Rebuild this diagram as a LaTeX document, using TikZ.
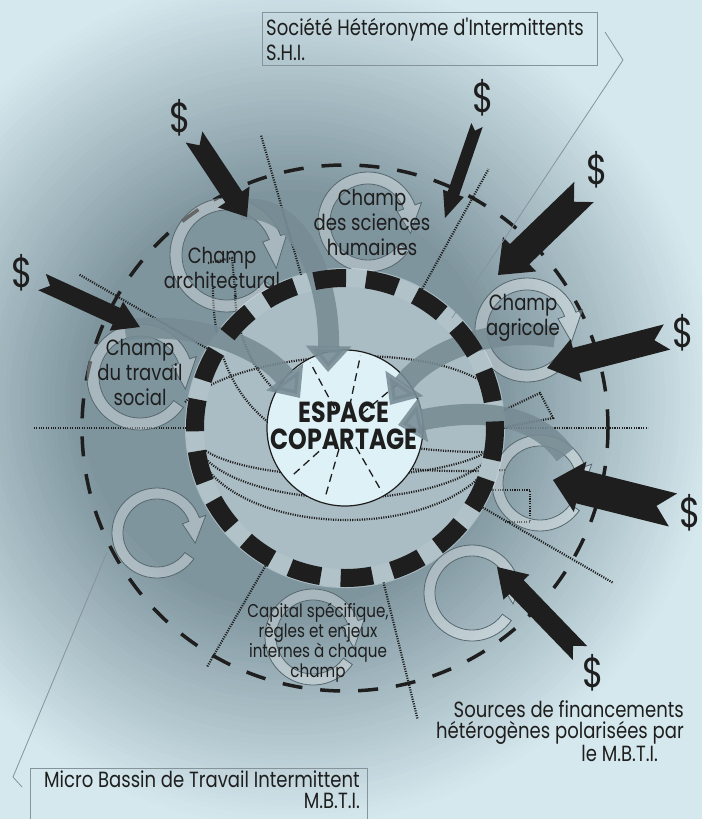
\documentclass[tikz,border=0pt]{standalone}
\usepackage{fontspec}
\newfontfamily\handfont{Poppins}[FakeStretch=0.82]
\usetikzlibrary{calc, arrows.meta}

\definecolor{bglight}{HTML}{D5E8EE}
\definecolor{bgdark}{HTML}{7F959E}
\definecolor{innerfill}{HTML}{ABBDC4}
\definecolor{bandfill}{HTML}{B1C3C9}
\definecolor{centrefill}{HTML}{DEF1F6}
\definecolor{flowgray}{HTML}{768B93}
\definecolor{ringline}{HTML}{56676E}
\definecolor{leadgray}{HTML}{84949A}
\definecolor{ink}{HTML}{1E1E1E}

% circular arrow round a champ: centre, outer radius, inner radius
\newcommand{\champring}[3]{%
  \filldraw[ringbody] ($(#1)+(35:#2)$) arc[start angle=35, end angle=340, radius=#2]
    -- ($(#1)+(340:{#2+7})$) -- ($(#1)+(15:{(#2+#3)/2})$) -- ($(#1)+(340:{#3-7})$)
    -- ($(#1)+(340:#3)$) arc[start angle=340, end angle=35, radius=#3] -- cycle;}

% money arrow: tail, tip, half shaft, half head, head length
\newcommand{\cashflow}[5]{%
  \coordinate (cfb) at ($(#2)!#5pt!(#1)$);
  \fill[cash] ($(#1)!#3pt!90:(#2)$) -- ($(cfb)!#3pt!90:(#2)$) -- ($(cfb)!#4pt!90:(#2)$)
    -- (#2) -- ($(cfb)!#4pt!-90:(#2)$) -- ($(cfb)!#3pt!-90:(#2)$)
    -- ($(#1)!#3pt!-90:(#2)$) -- ($(#1)!#3pt!(#2)$) -- cycle;}

\begin{document}
\begin{tikzpicture}[x=1pt, y=-1pt,
    every node/.style = {font=\handfont\fontsize{22}{25}\selectfont, text=ink, inner sep=0pt},
    champ/.style    = {align=center},
    capital/.style  = {align=center, font=\handfont\fontsize{18.5}{20}\selectfont},
    dollar/.style   = {font=\handfont\fontsize{42}{42}\selectfont},
    dots/.style     = {ink, line width=2.2pt, dash pattern=on 1.1pt off 1.3pt},
    spoke/.style    = {ink, line width=1.3pt, dash pattern=on 8pt off 5pt},
    leader/.style   = {leadgray, line width=0.8pt},
    flow/.style     = {flowgray, opacity=0.88, line width=21pt, -{Triangle[width=44pt,length=26pt]}},
    ringbody/.style = {fill=white, fill opacity=0.32, draw=ringline, line width=0.8pt},
    cash/.style     = {fill=ink},
    framebox/.style = {draw=leadgray, line width=1pt, inner sep=0pt},
]
\useasboundingbox (0,0) rectangle (702,819);
\clip (0,0) rectangle (702,819);

% background and halo
\fill[bglight] (0,0) rectangle (702,819);
\coordinate (halo) at (290,400);
\foreach \r in {430,425,...,200} {
    \pgfmathtruncatemacro\p{min(100,(430-\r)/2.2)}
    \fill[bgdark!\p!bglight] (halo) circle (\r);
}

% the micro basin
\coordinate (hub) at (345,428);
\fill[innerfill] (hub) circle (160);
\draw[ink, line width=3.5pt, dash pattern=on 20pt off 18pt] (hub) circle (263);

% borders between the champs
\foreach \a/\r in {-61/296, -106/305, -150/307, 180/312, 0/303, 30/310, 76/300, 120/276}
    \draw[dots] ($(hub)+(\a:159)$) -- ($(hub)+(\a:\r)$);

% dotted links across the shared space
\foreach \ry in {40,62,84}
    \draw[dots] (195,436) arc[start angle=180, end angle=0, x radius=152, y radius=\ry];
\draw[dots] (213,288) .. controls (213,420) and (300,480) .. (505,470);
\draw[dots] (235,295) .. controls (240,400) and (330,455) .. (500,452);
\draw[dots] (185,402) .. controls (240,350) and (440,335) .. (500,395);
\draw[dots] (500,412) -- (540,393) -- (553,418) -- (500,428);
\draw[dots] (488,490) -- (530,490) -- (530,522) -- (505,522);
\draw[dots] (208,263) -- (232,258) -- (236,300);

% champs
\coordinate (archi)     at (227,255);
\coordinate (sciences)  at (368,222);
\coordinate (agri)      at (527,330);
\coordinate (social)    at (140,377);
\coordinate (eastring)  at (540,483);
\coordinate (southeast) at (472,593);
\coordinate (capital)   at (313,637);
\coordinate (southwest) at (157,533);
\champring{archi}{57}{45}
\champring{sciences}{50}{38}
\champring{agri}{52}{40}
\champring{social}{53}{41}
\champring{eastring}{48}{37}
\champring{southeast}{48}{37}
\champring{capital}{48}{37}
\champring{southwest}{45}{34}

% shared space
\draw[bandfill, line width=18pt] (hub) circle (150);
\node[circle, draw=ink, fill=centrefill, line width=1.2pt, minimum size=156pt] (espace) at (hub) {};
\foreach \a in {-118,-78,-40,60,106,138}
    \draw[spoke] ($(espace.center)+(\a:22)$) -- ($(espace.center)+(\a:74)$);

% flows from the champs into the shared space
\coordinate (f1s) at (240,210);
\coordinate (f1e) at (328,372);
\coordinate (f2s) at (125,330);
\coordinate (f2e) at (300,398);
\coordinate (f3s) at (555,337);
\coordinate (f3e) at (390,405);
\coordinate (f4s) at (565,455);
\coordinate (f4e) at (398,425);
\draw[flow] (f1s) .. controls (300,200) and (330,280) .. (f1e);
\draw[flow] (f2s) .. controls (200,320) and (265,350) .. (f2e);
\draw[flow] (f3s) .. controls (480,325) and (420,360) .. (f3e);
\draw[flow] (f4s) .. controls (530,405) and (460,412) .. (f4e);

% thick dashed border of the shared space
\draw[ink, line width=18pt, dash pattern=on 32pt off 20pt] (hub) circle (150);

% labels
\node[font=\handfont\bfseries\fontsize{29}{27}\selectfont, align=center] (espacetxt) at (344,426) {ESPACE\\COPARTAGE};
\node[champ] (architxt)    at (222,268) {Champ\\architectural};
\node[champ] (sciencestxt) at (372,222) {Champ\\des sciences\\humaines};
\node[champ] (agritxt)     at (523,318) {Champ\\agricole};
\node[champ] (socialtxt)   at (140,372) {Champ\\du travail\\social};
\node[capital] (capitaltxt) at (318,643) {Capital spécifique,\\règles et enjeux\\internes à chaque\\champ};

% funding sources
\node[dollar] (d1) at (180,118) {\$};
\node[dollar] (d2) at (483,98)  {\$};
\node[dollar] (d3) at (597,170) {\$};
\node[dollar] (d4) at (22,273)  {\$};
\node[dollar] (d5) at (683,333) {\$};
\node[dollar] (d6) at (690,513) {\$};
\node[dollar] (d7) at (593,673) {\$};
\coordinate (t1) at (194,137);
\coordinate (h1) at (247,217);
\coordinate (t2) at (477,125);
\coordinate (h2) at (445,218);
\coordinate (t3) at (584,192);
\coordinate (h3) at (498,275);
\coordinate (t4) at (42,282);
\coordinate (h4) at (140,327);
\coordinate (t5) at (667,337);
\coordinate (h5) at (547,368);
\coordinate (t6) at (673,510);
\coordinate (h6) at (553,480);
\coordinate (t7) at (580,653);
\coordinate (h7) at (497,567);
\cashflow{t1}{h1}{10}{19}{24}
\cashflow{t2}{h2}{6}{11}{26}
\cashflow{t3}{h3}{14}{24}{30}
\cashflow{t4}{h4}{9}{16}{26}
\cashflow{t5}{h5}{13}{22}{30}
\cashflow{t6}{h6}{17}{26}{28}
\cashflow{t7}{h7}{10}{18}{28}

% S.H.I. box
\node[framebox, minimum width=335pt, minimum height=53pt, anchor=north west] (shi) at (262,12) {};
\node[anchor=west, align=left] (shitxt) at ($(shi.west)+(4,0)$) {Société Hétéronyme d'Intermittents\\S.H.I.};
\coordinate (shitip)  at (605,32);
\coordinate (shibend) at (623,60);
\coordinate (shiend)  at (452,318);
\draw[leader] (shitip) -- (shibend) -- (shiend);

% M.B.T.I. box
\node[framebox, minimum width=337pt, minimum height=70pt, anchor=north west] (mbti) at (30,768) {};
\node[anchor=north east, align=right, font=\handfont\fontsize{22}{21}\selectfont] (mbtitxt) at (360,771) {Micro Bassin de Travail Intermittent\\M.B.T.I.};
\coordinate (mbtitip)  at (22,787);
\coordinate (mbtibend) at (13,777);
\coordinate (mbtiend)  at (107,552);
\draw[leader] (mbtitip) -- (mbtibend) -- (mbtiend);

% caption of the funding sources
\node[anchor=north east, align=right, font=\handfont\fontsize{22}{21}\selectfont] (sources) at (684,700)
    {Sources de financements\\hétérogènes polarisées par\\le M.B.T.I.\hspace*{26pt}};
\end{tikzpicture}
\end{document}
